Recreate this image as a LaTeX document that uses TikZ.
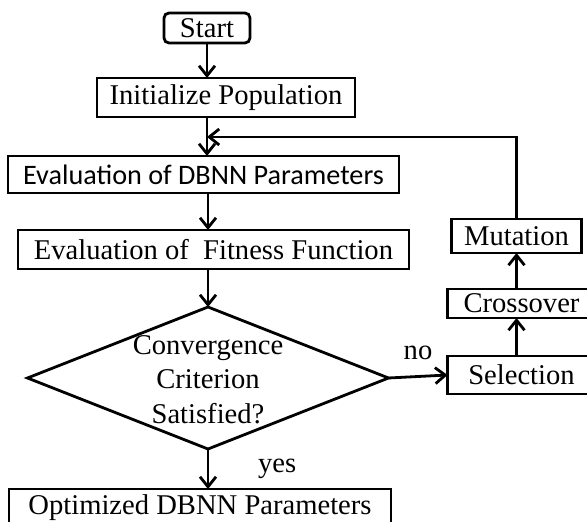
\documentclass[tikz,border=0pt]{standalone}
\usepackage{fontspec}
\setmainfont{Liberation Serif}
\newfontfamily\calibrifont{Carlito}
\usetikzlibrary{positioning,shapes.geometric,arrows.meta}

\begin{document}
\begin{tikzpicture}[>={Straight Barb[length=5pt,width=8pt]},
  every node/.style={font=\fontsize{14.3}{17.3}\selectfont},
  block/.style={rectangle,draw,line width=1.4pt,inner sep=1pt,outer sep=0pt},
  decision/.style={diamond,draw,line width=1.4pt,inner sep=0pt,outer sep=0pt,minimum width=180.5pt,minimum height=71pt},
  flow/.style={->,line width=1.4pt}]
  \useasboundingbox (-103.5pt,-247pt) rectangle (190pt,14pt);
  \clip (-103.5pt,-247pt) rectangle (190pt,14pt);

  % main column
  \node[block,rounded corners=2.5pt,minimum width=43pt,minimum height=15pt] (start) {Start};
  \node[block,minimum width=129pt,minimum height=19.5pt] (init) [below=17.5pt of start,xshift=9.5pt] {Initialize Population};
  \node[block,font=\calibrifont\fontsize{14.1}{17}\selectfont,minimum width=195.5pt,minimum height=18.5pt] (dbnn) [below=19.5pt of init,xshift=-11.25pt] {Evaluation of DBNN Parameters};
  \node[block,minimum width=195.5pt,minimum height=19.5pt] (fitness) [below=18.5pt of dbnn,xshift=5pt] {Evaluation of\ \ Fitness Function};
  \node[decision] (conv) [below=19pt of fitness,xshift=-2.75pt] {\makebox[0pt]{\smash{\raisebox{-5.5pt}{\begin{tabular}{@{}c@{}}Convergence\\Criterion\\Satisfied?\end{tabular}}}}};
  \node[block,minimum width=191pt,minimum height=19pt] (opt) [below=20pt of conv,xshift=-4pt] {Optimized DBNN Parameters};

  % genetic operators
  \node[block,minimum width=74pt,minimum height=19pt] (select) [right=29.5pt of conv,yshift=1.5pt] {Selection};
  \node[block,minimum width=74pt,minimum height=14.5pt] (cross) [above=19pt of select] {Crossover};
  \node[block,minimum width=65pt,minimum height=17pt] (mut) [above=18pt of cross,xshift=-2.5pt] {Mutation};

  \path (init.south -| start.south) ++(0,-10pt) coordinate (merge);

  \draw[flow] (start.south) -- (init.north -| start.south);
  \draw[flow] (init.south -| start.south) -- (dbnn.north -| start.south);
  \draw[flow] (dbnn.south -| conv.north) -- (fitness.north -| conv.north);
  \draw[flow] (fitness.south -| conv.north) -- (conv.north);
  \draw[flow] (conv.south) -- (opt.north -| conv.south) node[midway,right=21pt] {yes};
  \draw[flow] (conv.east) -- (select.west) node[midway,above=4.5pt] {no};
  \draw[flow] (select.north -| mut.south) -- (cross.south -| mut.south);
  \draw[flow] (cross.north -| mut.south) -- (mut.south);
  \draw[flow] (mut.north) |- (merge);
\end{tikzpicture}
\end{document}
